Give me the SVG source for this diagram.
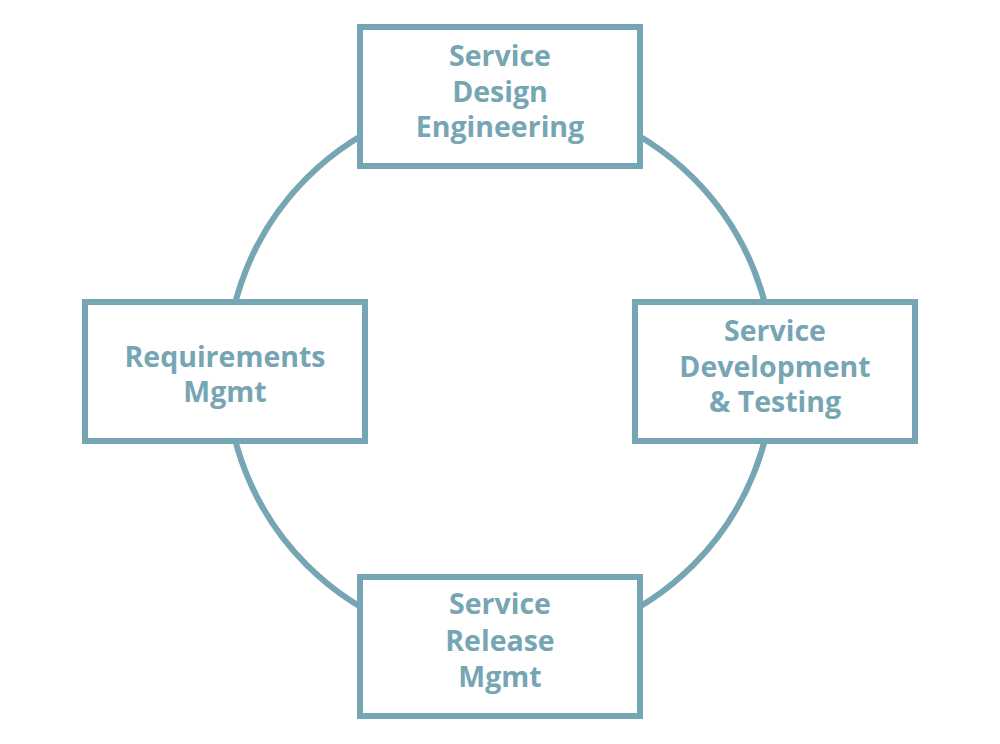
<svg xmlns="http://www.w3.org/2000/svg" width="1000" height="744" viewBox="0 0 1000 744">
<style>
.box{fill:#fff;stroke:#76a5b3;stroke-width:6}
.ring{fill:none;stroke:#76a5b3;stroke-width:6}
.lbl{font-family:"Open Sans","DejaVu Sans",sans-serif;font-weight:bold;font-size:28.5px;fill:#76a5b3;text-anchor:middle}
</style>
<rect width="1000" height="744" fill="#fff"/>
<g id="connectors">
<circle class="ring" cx="500" cy="371.5" r="273.5"/>
</g>
<g id="node-design">
<rect class="box" x="360" y="27" width="280" height="139"/>
<text class="lbl" x="500" y="66">Service</text>
<text class="lbl" x="500" y="101.5">Design</text>
<text class="lbl" x="500" y="137">Engineering</text>
</g>
<g id="node-requirements">
<rect class="box" x="85" y="302" width="280" height="139"/>
<text class="lbl" x="225" y="367">Requirements</text>
<text class="lbl" x="225" y="402">Mgmt</text>
</g>
<g id="node-development">
<rect class="box" x="635" y="302" width="280" height="139"/>
<text class="lbl" x="775" y="341">Service</text>
<text class="lbl" x="775" y="377">Development</text>
<text class="lbl" x="775" y="412">&amp; Testing</text>
</g>
<g id="node-release">
<rect class="box" x="360" y="577" width="280" height="139"/>
<text class="lbl" x="500" y="614">Service</text>
<text class="lbl" x="500" y="650.5">Release</text>
<text class="lbl" x="500" y="686.5">Mgmt</text>
</g>
</svg>
